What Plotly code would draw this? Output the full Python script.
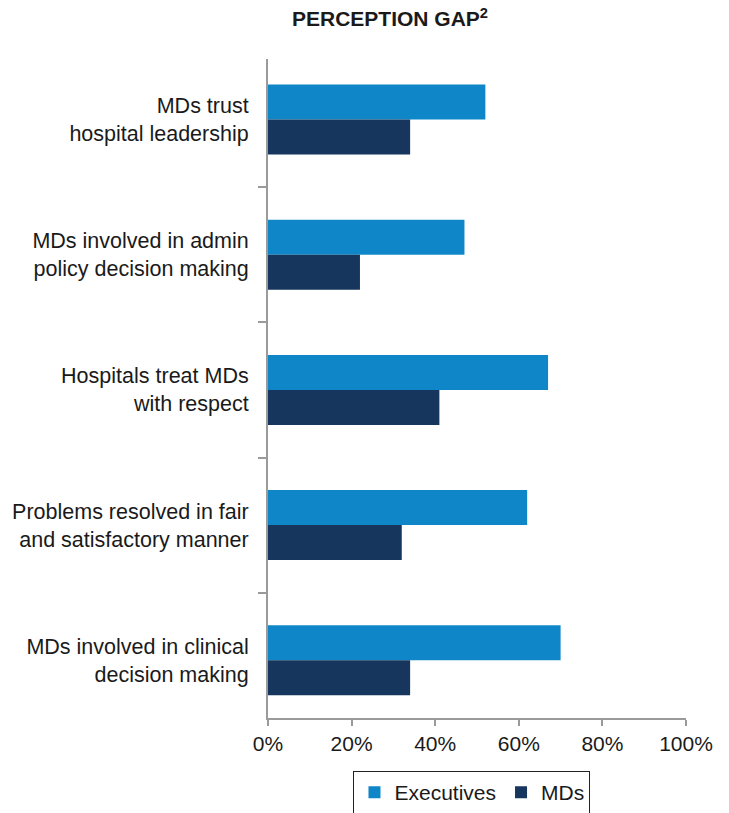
import plotly.graph_objects as go

# Survey statements (top to bottom)
categories = [
    "MDs trust<br>hospital leadership",
    "MDs involved in admin<br>policy decision making",
    "Hospitals treat MDs<br>with respect",
    "Problems resolved in fair<br>and satisfactory manner",
    "MDs involved in clinical<br>decision making",
]
executives = [0.52, 0.47, 0.67, 0.62, 0.70]
mds = [0.34, 0.22, 0.41, 0.32, 0.34]
x_ticks = [0, 0.2, 0.4, 0.6, 0.8, 1.0]
x_tick_labels = ["0%", "20%", "40%", "60%", "80%", "100%"]

EXEC_COLOR = "#0E86C8"
MD_COLOR = "#16365E"
AXIS_COLOR = "#9A9A9A"
FONT = "Liberation Sans, Arial, Helvetica, sans-serif"

fig = go.Figure()
fig.add_trace(go.Bar(
    name="Executives", y=categories, x=executives, orientation="h",
    marker=dict(color=EXEC_COLOR, line=dict(width=0)),
))
fig.add_trace(go.Bar(
    name="MDs", y=categories, x=mds, orientation="h",
    marker=dict(color=MD_COLOR, line=dict(width=0)),
))

# small ticks at the two ends of the category axis
for yv in (-0.448, 4.427):
    fig.add_shape(
        type="line", xref="x", yref="y", xsizemode="pixel", xanchor=0,
        x0=-8, x1=0, y0=yv, y1=yv, line=dict(color=AXIS_COLOR, width=2),
    )

fig.update_layout(
    width=729, height=813,
    margin=dict(l=268, r=43, t=59, b=95, autoexpand=False),
    paper_bgcolor="white", plot_bgcolor="white",
    font=dict(family=FONT, size=21, color="#1a1a1a"),
    barmode="group", bargap=0.482, bargroupgap=0,
    title=dict(
        text="<b>PERCEPTION GAP<sup>2</sup></b>",
        x=0.535, xanchor="center", y=1 - 19 / 813, yanchor="middle",
        font=dict(family=FONT, size=21, color="#1a1a1a"),
    ),
    xaxis=dict(
        range=[0, 1], tickvals=x_ticks, ticktext=x_tick_labels,
        showgrid=False, zeroline=False,
        showline=True, linecolor=AXIS_COLOR, linewidth=2,
        ticks="outside", ticklen=6, tickwidth=2, tickcolor=AXIS_COLOR,
        tickfont=dict(size=21, color="#1a1a1a"),
    ),
    yaxis=dict(
        type="category", categoryorder="array", categoryarray=categories,
        range=[4.427, -0.448],
        showgrid=False, zeroline=False,
        showline=True, linecolor=AXIS_COLOR, linewidth=2,
        ticks="outside", ticklen=8, tickwidth=2, tickcolor=AXIS_COLOR,
        tickson="boundaries", ticklabelstandoff=13,
        tickfont=dict(size=21.5, color="#1a1a1a"),
    ),
    legend=dict(
        orientation="h", x=0.488, xanchor="center",
        yref="container", y=1 - 771 / 813, yanchor="top",
        bordercolor="#222222", borderwidth=1,
        font=dict(size=21, color="#1a1a1a"),
        itemwidth=30, traceorder="normal",
    ),
    showlegend=True,
)

fig.write_html("out.html")
